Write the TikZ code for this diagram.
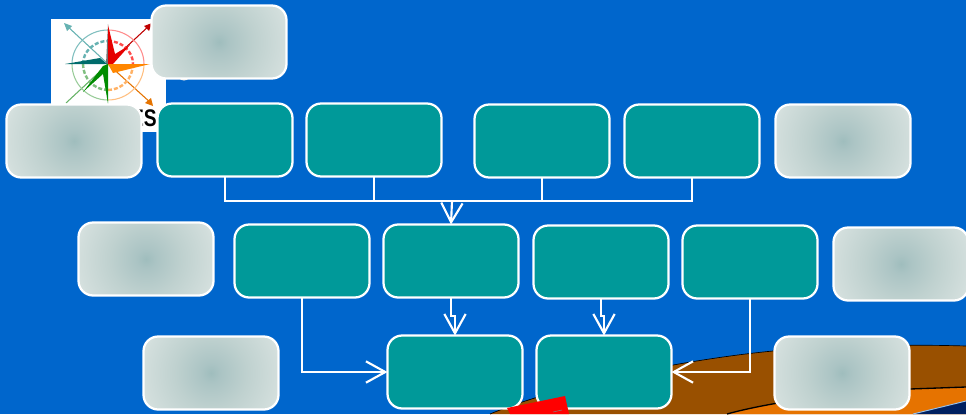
\documentclass[tikz,border=0pt]{standalone}
\usepackage{fontspec}
\setmainfont{Liberation Sans}
\newfontfamily\logofont[FakeStretch=0.8]{Liberation Sans}
\usetikzlibrary{arrows.meta}
\definecolor{bgblue}{HTML}{0066CC}
\definecolor{tealbox}{HTML}{009999}
\definecolor{brownland}{HTML}{995000}
\definecolor{orangeland}{HTML}{E67300}
\definecolor{navyland}{HTML}{002060}
\definecolor{glowa}{HTML}{9FBDBD}
\definecolor{glowb}{HTML}{ABC4C4}
\definecolor{glowc}{HTML}{BFD1CF}
\definecolor{glowd}{HTML}{D2DEDC}
\definecolor{glowe}{HTML}{DAE4E2}
\pgfdeclareradialshading{softglow}{\pgfpoint{0bp}{0bp}}{
  color(0bp)=(glowa);
  color(2.75bp)=(glowb);
  color(10bp)=(glowc);
  color(18.5bp)=(glowd);
  color(21bp)=(glowe);
  color(50bp)=(glowe)}
\tikzset{
  x=0.75pt,y=-0.75pt,
  basebox/.style={rounded corners=11pt,line width=1.7pt,draw=white,minimum width=135*0.75pt,minimum height=73*0.75pt,inner sep=0pt,outer sep=0pt,anchor=north west},
  tealnode/.style={basebox,fill=tealbox},
  glownode/.style={basebox,path picture={\shade[shading=softglow] (path picture bounding box.center) circle (90);}},
  wire/.style={draw=white,line width=1.6pt},
  openarrow/.style={wire,-{Straight Barb[length=14.5pt,width=16pt,line width=1.6pt]}},
}
\begin{document}
\begin{tikzpicture}
\useasboundingbox (0,0) rectangle (966,414);
\fill[bgblue] (0,0) rectangle (966,414);
% ground shapes
\begin{scope}
\clip (0,0) rectangle (966,414);
\fill[brownland] (490,414) .. controls (560,385) and (680,360) .. (773,351) .. controls (830,346) and (900,344) .. (966,346) -- (966,414) -- cycle;
\draw[black,line width=0.5pt] (490,414) .. controls (560,385) and (680,360) .. (773,351) .. controls (830,346) and (900,344) .. (966,346);
\fill[orangeland] (727,414) .. controls (770,402) and (850,391) .. (910,389) -- (966,387) -- (966,414) -- cycle;
\draw[black,line width=1pt] (727,414) .. controls (770,402) and (850,391) .. (910,389) -- (966,387);
\fill[navyland] (913,414) -- (966,401) -- (966,414) -- cycle;
\draw[white!60!bgblue,line width=0.7pt] (913,414) -- (966,401);
\end{scope}
% logo
\fill[white] (51,19) rectangle (166,132);
\fill[black!10] (184,74) circle (6.5);
\begin{scope}
\draw[teal!60,line width=0.8pt] (108,64) -- (66,25);
\draw[red!75!black,line width=0.8pt] (108,64) -- (150,25);
\draw[green!50!black!60,line width=0.8pt] (108,64) -- (66,103);
\draw[orange!90!black,line width=0.8pt] (108,64) -- (152,104);
\fill[teal!60] (64,23) -- (72,26) -- (67,31) -- cycle;
\fill[red!75!black] (152,23) -- (144,26) -- (149,31) -- cycle;
\fill[orange!90!black] (153,106) -- (151,98) -- (145,103) -- cycle;
\draw[teal!50,line width=0.8pt] (72,64) arc (180:270:36 and 34);
\draw[red!45,line width=0.8pt] (108,30) arc (270:360:36 and 34);
\draw[orange!50,line width=0.8pt] (144,64) arc (0:90:36 and 36);
\draw[green!50!black!40,line width=0.8pt] (108,100) arc (90:180:36 and 36);
\draw[teal!60,line width=1.8pt,dash pattern=on 3pt off 1.5pt] (83,64) arc (180:270:25 and 23);
\draw[red!70,line width=1.8pt,dash pattern=on 3pt off 1.5pt] (108,41) arc (270:360:25 and 23);
\draw[orange!60,line width=1.8pt,dash pattern=on 3pt off 1.5pt] (133,64) arc (0:90:25 and 26);
\draw[green!50!black!50,line width=1.8pt,dash pattern=on 3pt off 1.5pt] (108,90) arc (90:180:25 and 26);
\fill[black!55] (108,64) -- (108,24) -- (106,64) -- cycle;
\fill[red!90!black] (108,64) -- (108,25) -- (115,54) -- (130,45) -- (113,64) -- cycle;
\fill[teal!85!black] (107,64) -- (65,64) -- (100,58) -- cycle;
\fill[orange!95!yellow] (108,64) -- (150,64) -- (113,73) -- cycle;
\fill[green!55!black] (108,64) -- (108,104) -- (103,74) -- (83,92) -- (103,66) -- cycle;
\end{scope}
\node[anchor=base east,inner sep=0pt,font=\logofont\bfseries\fontsize{18pt}{18pt}\selectfont] (logotext) at (157,126) {ES};
% nodes
\node[glownode] (g1) at (151.5,5.5) {};
\node[glownode] (g2) at (6.5,104.5) {};
\node[glownode] (g3) at (775.5,104.5) {};
\node[glownode] (g4) at (78.5,222.5) {};
\node[glownode] (g5) at (833.5,227.5) {};
\node[glownode] (g6) at (143.5,336.5) {};
\node[glownode] (g7) at (774.5,336.5) {};
\node[tealnode] (a1) at (157.5,103.5) {};
\node[tealnode] (a2) at (306.5,103.5) {};
\node[tealnode] (a3) at (474.5,104.5) {};
\node[tealnode] (a4) at (624.5,104.5) {};
\node[tealnode] (b1) at (234.5,224.5) {};
\node[tealnode] (b2) at (383.5,224.5) {};
\node[tealnode] (b3) at (533.5,225.5) {};
\node[tealnode] (b4) at (682.5,225.5) {};
\node[tealnode] (c1) at (387.5,335.5) {};
\node[tealnode] (c2) at (536.5,335.5) {};
% connectors
\coordinate (busm) at (452,201);
\draw[wire] (a1.south) |- (busm) -| (a4.south);
\draw[wire] (a2.south) -- (a2.south |- busm);
\draw[wire] (a3.south) -- (a3.south |- busm);
\draw[openarrow] (busm) -- (b2.north);
\coordinate (j1) at (451,316);
\coordinate (j2) at (455,316);
\draw[openarrow] (b2.south) -- (j1) -- (j2) -- (c1.north);
\coordinate (k1) at (601,316);
\coordinate (k2) at (604,316);
\draw[openarrow] (b3.south) -- (k1) -- (k2) -- (c2.north);
\draw[openarrow] (b1.south) |- (c1.west);
\draw[openarrow] (b4.south) |- (c2.east);
% red marker
\fill[red] (507,408) -- (565,396) -- (569,414) -- (510,414) -- cycle;
\draw[black!50,line width=0.4pt] (553,412) -- (562,410);
\end{tikzpicture}
\end{document}
